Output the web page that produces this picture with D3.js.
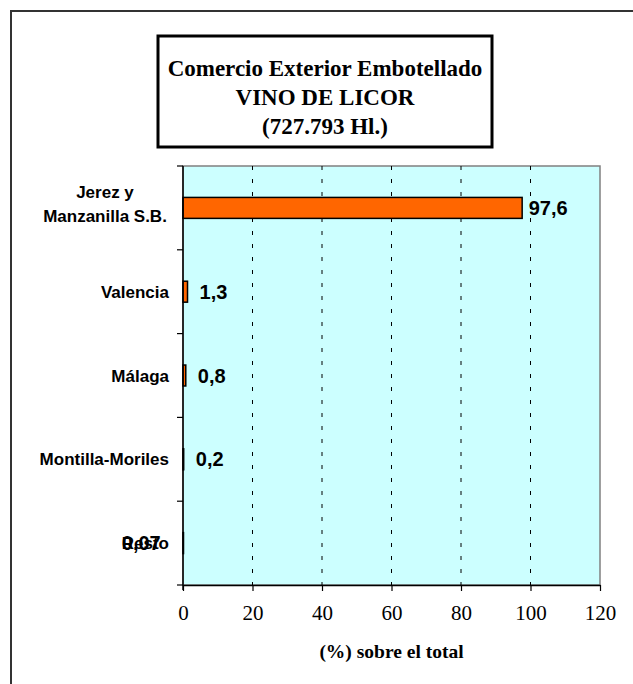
<!DOCTYPE html>
<html><head><meta charset="utf-8">
<script src="https://cdn.jsdelivr.net/npm/d3@7"></script>
<style>html,body{margin:0;padding:0;background:#fff;}svg{display:block;}</style>
</head><body>
<svg id="c" width="633" height="684"></svg>
<script>
const categories = ["Jerez y\nManzanilla S.B.", "Valencia", "Málaga", "Montilla-Moriles", "Resto"];
const values = [97.6, 1.3, 0.8, 0.2, 0.07];
const valueLabels = ["97,6", "1,3", "0,8", "0,2", "0,07"];
const xTicks = [0, 20, 40, 60, 80, 100, 120];
const titleLines = ["Comercio Exterior Embotellado", "VINO DE LICOR", "(727.793 Hl.)"];
const xTitle = "(%) sobre el total";

const svg = d3.select("#c");
const serif = "'Liberation Serif','Times New Roman',serif";
const sans = "'Liberation Sans',Arial,sans-serif";

// outer frame
svg.append("rect").attr("x", 11).attr("y", 11).attr("width", 700).attr("height", 700)
  .attr("fill", "none").attr("stroke", "#333").attr("stroke-width", 2);

const m = {left: 183, right: 600, top: 166, bottom: 585};
const x = d3.scaleLinear().domain([0, 120]).range([m.left, m.right]);
const yb = d3.scaleBand().domain(categories).range([m.top, m.bottom]);
const barH = yb.bandwidth() * 0.25;

// plot background
svg.append("rect").attr("x", m.left).attr("y", m.top).attr("width", m.right - m.left).attr("height", m.bottom - m.top)
  .attr("fill", "#ccffff").attr("stroke", "#808080").attr("stroke-width", 1.5);

// gridlines
svg.append("g").selectAll("line").data(xTicks.filter(d => d > 0 && d < 120)).join("line")
  .attr("x1", d => x(d)).attr("x2", d => x(d)).attr("y1", m.top).attr("y2", m.bottom)
  .attr("stroke", "#000").attr("stroke-width", 1).attr("stroke-dasharray", "4,9");

// bars
svg.append("g").selectAll("rect").data(categories).join("rect")
  .attr("x", x(0)).attr("y", d => yb(d) + yb.bandwidth() / 2 - barH / 2).attr("height", barH)
  .attr("width", (d, i) => Math.max(0.5, x(values[i]) - x(0)))
  .attr("fill", "#ff6600").attr("stroke", "#000").attr("stroke-width", 1.5);

// x axis
const xa = svg.append("g").attr("transform", `translate(0,${m.bottom})`)
  .call(d3.axisBottom(x).tickValues(xTicks).tickSize(6).tickSizeOuter(0));
xa.select(".domain").attr("stroke", "#000").attr("stroke-width", 1.5);
xa.selectAll(".tick line").attr("stroke", "#000").attr("stroke-width", 1.2);
xa.selectAll(".tick text").attr("font-family", serif)
  .attr("font-size", 21).attr("fill", "#000").attr("dy", "0").attr("y", 35);

// y axis ticks at band boundaries
const bounds = categories.map(c => yb(c)).concat([m.bottom]);
svg.append("g").selectAll("line").data(bounds).join("line")
  .attr("x1", m.left - 6).attr("x2", m.left).attr("y1", d => d).attr("y2", d => d)
  .attr("stroke", "#000").attr("stroke-width", 1.2);
svg.append("line").attr("x1", m.left).attr("x2", m.left).attr("y1", m.top).attr("y2", m.bottom + 5)
  .attr("stroke", "#000").attr("stroke-width", 1.5);

// category labels
const catG = svg.append("g").attr("font-family", sans)
  .attr("font-weight", "bold").attr("font-size", 17).attr("fill", "#000");
const catTexts = [];
categories.forEach((c, i) => {
  const lines = c.split("\n");
  const cy = yb(c) + yb.bandwidth() / 2;
  const multi = lines.length > 1;
  const t = catG.append("text").attr("text-anchor", multi ? "middle" : "end");
  const tx = multi ? 105 : 169;
  lines.forEach((l, j) => {
    t.append("tspan").attr("x", tx).attr("y", multi ? cy - 10 + j * 24 : cy + 6).text(l);
  });
  catTexts.push(t);
});

// value labels
const valG = svg.append("g").attr("font-family", sans)
  .attr("font-weight", "bold").attr("font-size", 20).attr("fill", "#000");
categories.forEach((c, i) => {
  const cy = yb(c) + yb.bandwidth() / 2;
  if (i === categories.length - 1) {
    const bb = catTexts[i].node().getBBox();
    valG.append("text").attr("x", bb.x).attr("y", cy + 7).attr("text-anchor", "start").text(valueLabels[i]);
  } else {
    valG.append("text").attr("x", x(values[i]) + 26).attr("y", cy + 7).attr("text-anchor", "middle").text(valueLabels[i]);
  }
});

// x title
svg.append("text").attr("x", (m.left + m.right) / 2).attr("y", 658).attr("text-anchor", "middle")
  .attr("font-family", serif).attr("font-weight", "bold")
  .attr("font-size", 19.5).text(xTitle);

// title box
svg.append("rect").attr("x", 158).attr("y", 36).attr("width", 334).attr("height", 111)
  .attr("fill", "#fff").attr("stroke", "#000").attr("stroke-width", 3);
const tt = svg.append("text").attr("text-anchor", "middle")
  .attr("font-family", serif).attr("font-weight", "bold").attr("font-size", 23);
titleLines.forEach((l, j) => {
  tt.append("tspan").attr("x", 325).attr("y", 76 + j * 29).text(l);
});
</script>
</body></html>
